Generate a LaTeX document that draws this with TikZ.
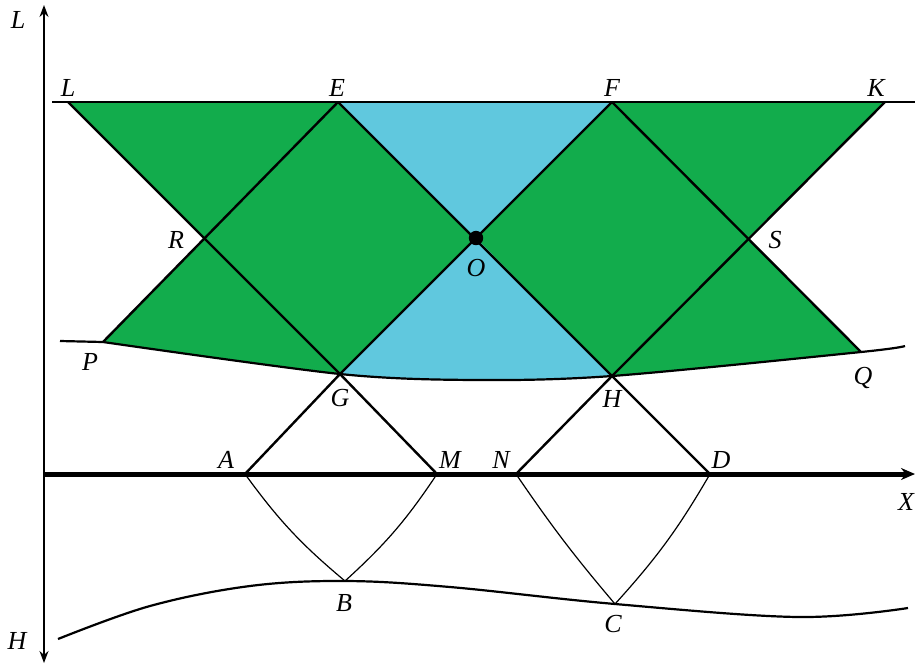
\documentclass[tikz,border=0pt]{standalone}
\usepackage{fontspec}
\setmainfont{Liberation Serif}
\usepackage{xcolor}
\definecolor{zonegreen}{RGB}{18,172,76}
\definecolor{zonecyan}{RGB}{96,200,222}
\usepackage{tikz}
\usetikzlibrary{arrows.meta,calc}

\begin{document}
\begin{tikzpicture}[
  x=0.5pt, y=-0.5pt,
  ray/.style={line width=1.2pt, black},
  bound/.style={line width=1.1pt, black},
  thinray/.style={line width=0.6pt, black},
  axis/.style={line width=0.7pt, {Stealth[length=6pt,width=4.5pt]}-{Stealth[length=6pt,width=4.5pt]}},
  lbl/.style={font=\fontsize{13}{15}\selectfont\itshape, inner sep=1pt}
]
\useasboundingbox (0,0) rectangle (915,665);

% points of the construction
\coordinate (L) at (68,102);
\coordinate (E) at (338,102);
\coordinate (F) at (612,102);
\coordinate (K) at (885,102);
\coordinate (R) at (205,238);
\coordinate (O) at (476,238);
\coordinate (S) at (748,238);
\coordinate (P) at (103,342);
\coordinate (G) at (340,374);
\coordinate (H) at (612,376);
\coordinate (Q) at (861,352);
\coordinate (A) at (245,474);
\coordinate (M) at (437,474);
\coordinate (N) at (516,474);
\coordinate (D) at (710,474);
\coordinate (B) at (345,581);
\coordinate (C) at (615,604);
% ends of the lines
\coordinate (topl) at (52,102);
\coordinate (topr) at (915,102);
\coordinate (xl) at (44,474);
\coordinate (xr) at (915,474);
\coordinate (yb) at (44,663);
\coordinate (yt) at (44,5);

\def\upper{(60,341) -- plot[smooth, tension=0.5] coordinates {(P) (G) (476,380) (H) (Q) (905,346)}}
\def\lower{plot[smooth, tension=0.6] coordinates {(58,639) (150,606) (250,586) (B) (450,587) (C) (798,617) (908,608)}}

% coloured zones above the upper boundary
\begin{scope}
  \clip \upper -- (905,0) -- (60,0) -- cycle;
  \fill[zonegreen] (L) -- (K) -- (S) -- ($(F)!1.15!(Q)$) -- ($(E)!1.15!(P)$) -- (R) -- cycle;
  \fill[zonecyan] (E) -- (F) -- (O) -- cycle;
  \fill[zonecyan] (O) -- ($(O)!1.2!(G)$) -- ($(O)!1.2!(H)$) -- cycle;
\end{scope}

\draw[bound] \upper;
\draw[bound] \lower;

\draw[ray, line width=1.4pt] (topl) -- (topr);
\draw[ray] (L) -- (G);
\draw[ray] (E) -- (P);
\draw[ray] (E) -- (H);
\draw[ray] (F) -- (G);
\draw[ray] (F) -- (Q);
\draw[ray] (K) -- (H);
\draw[ray] (G) -- (A);
\draw[ray] (G) -- (M);
\draw[ray] (H) -- (N);
\draw[ray] (H) -- (D);

\draw[thinray] (A) to[bend right=7] (B);
\draw[thinray] (B) to[bend right=7] (M);
\draw[thinray] (N) to[bend right=3] (C);
\draw[thinray] (C) to[bend right=6] (D);

\draw[line width=2.5pt, -{Stealth[length=7pt,width=6pt]}] (xl) -- (xr);
\draw[axis] (yb) -- (yt);

\fill (O) circle (3.6pt);

% labels
\node[lbl] (labL) at (18,20) {L};
\node[lbl] (labHax) at (17,641) {H};
\node[lbl] (labX) at (906,502) {X};
\node[lbl] (lL) at (68,88) {L};
\node[lbl] (lE) at (337,88) {E};
\node[lbl] (lF) at (612,88) {F};
\node[lbl] (lK) at (876,88) {K};
\node[lbl] (lR) at (176,240) {R};
\node[lbl] (lO) at (476,268) {O};
\node[lbl] (lS) at (775,240) {S};
\node[lbl] (lP) at (90,362) {P};
\node[lbl] (lG) at (340,398) {G};
\node[lbl] (lH) at (612,399) {H};
\node[lbl] (lQ) at (863,378) {Q};
\node[lbl] (lA) at (226,460) {A};
\node[lbl] (lM) at (450,460) {M};
\node[lbl] (lN) at (501,460) {N};
\node[lbl] (lD) at (721,460) {D};
\node[lbl] (lB) at (344,603) {B};
\node[lbl] (lC) at (613,624) {C};
\end{tikzpicture}
\end{document}
